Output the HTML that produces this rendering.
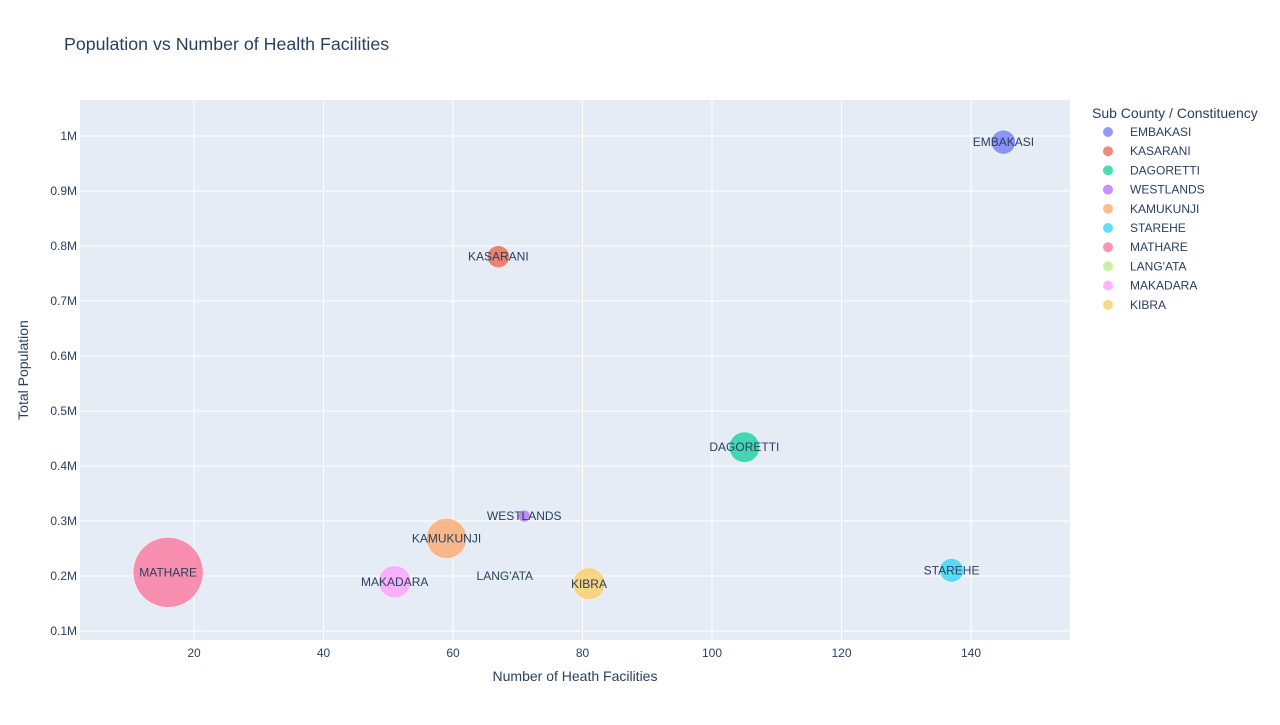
<!DOCTYPE html>
<html><head><meta charset="utf-8">
<style>
body{margin:0;background:#fff;font-family:"Liberation Sans",sans-serif;}
svg text{font-family:"Liberation Sans",sans-serif;fill:#2a3f5f;}
</style></head>
<body>
<svg id="chart" width="1280" height="720">
<rect x="0" y="0" width="1280" height="720" fill="#fff"/>
<text x="64" y="50" font-size="17.8">Population vs Number of Health Facilities</text>
<rect x="80" y="100" width="990" height="540" fill="#e5ecf6"/>
<g id="grid"></g>
<g id="marks"></g>
<g id="labels"></g>
<text x="575" y="681" font-size="14" text-anchor="middle">Number of Heath Facilities</text>
<text transform="translate(28,370) rotate(-90)" font-size="14" text-anchor="middle">Total Population</text>
<text x="1092" y="118" font-size="14">Sub County / Constituency</text>
<g id="legend"></g>
</svg>
<script>
const names=["EMBAKASI","KASARANI","DAGORETTI","WESTLANDS","KAMUKUNJI","STAREHE","MATHARE","LANG'ATA","MAKADARA","KIBRA"];
const facilities=[145,67,105,71,59,137,16,68,51,81];
const population=[988800,780600,434200,308900,268300,210400,206600,200000,189500,185800];
const sizes=[118,100,190,30,330,115,1000,1,215,210];
const colors=["#636efa","#EF553B","#00cc96","#ab63fa","#FFA15A","#19d3f3","#FF6692","#B6E880","#FF97FF","#FECB52"];
const xTicks=[20,40,60,80,100,120,140];
const yTicks=[100000,200000,300000,400000,500000,600000,700000,800000,900000,1000000];
const yTickLabels=["0.1M","0.2M","0.3M","0.4M","0.5M","0.6M","0.7M","0.8M","0.9M","1M"];
const NS="http://www.w3.org/2000/svg";
const xS=v=>64.5+v*6.475;
const yS=v=>631-(v/1e6-0.1)*550;
const rS=s=>35*Math.sqrt(s/1000);
function mk(tag,attrs,parent){const e=document.createElementNS(NS,tag);for(const k in attrs)e.setAttribute(k,attrs[k]);parent.appendChild(e);return e;}
const grid=document.getElementById('grid');
xTicks.forEach(t=>{
 const l=mk('line',{x1:xS(t),x2:xS(t),y1:100,y2:640,stroke:'#fff','stroke-width':1},grid);
 
 
 const tx=mk('text',{x:xS(t),y:657,'font-size':12,'text-anchor':'middle'},grid);
 tx.textContent=t;
 
 
});
yTicks.forEach((t,i)=>{
 const l=mk('line',{x1:80,x2:1070,y1:yS(t),y2:yS(t),stroke:'#fff','stroke-width':1},grid);
 
 
 const tx=mk('text',{x:77,y:yS(t)+4,'font-size':12,'text-anchor':'end'},grid);
 tx.textContent=yTickLabels[i];
 
 
});
const marks=document.getElementById('marks'),labels=document.getElementById('labels'),legend=document.getElementById('legend');
names.forEach((n,i)=>{
 const c=mk('circle',{cx:xS(facilities[i]),cy:yS(population[i]),r:Math.max(2,rS(sizes[i])),fill:colors[i],'fill-opacity':0.7,stroke:'#fff','stroke-width':0.5},marks);
 
 
 const t=mk('text',{x:xS(facilities[i]),y:yS(population[i])+4,'font-size':12,'text-anchor':'middle'},labels);
 t.textContent=n;
 
 
 const y=132+i*19.2;
 const g=mk('g',{},legend);
 
 
 mk('circle',{cx:1108,cy:y,r:5,fill:colors[i],'fill-opacity':0.7},g);
 const lt=mk('text',{x:1130,y:y+4,'font-size':12},g);
 lt.textContent=n;
});
</script>
</body></html>
